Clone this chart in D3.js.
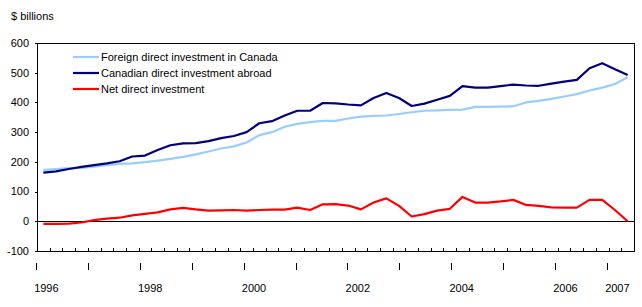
<!DOCTYPE html>
<html>
<head>
<meta charset="utf-8">
<script src="https://cdn.jsdelivr.net/npm/d3@7"></script>
<style>
  body { margin: 0; background: #fff; }
  text { font-family: Arial, "Liberation Sans", sans-serif; font-size: 11px; fill: #000; }
</style>
</head>
<body>
<svg id="chart" width="642" height="307"></svg>
<script>
// quarterly data, 1996Q1 .. 2007Q3
const years = [1996, 1997, 1998, 1999, 2000, 2001, 2002, 2003, 2004, 2005, 2006, 2007];
const quarters = years.flatMap(y => ['Q1', 'Q2', 'Q3', 'Q4'].map(q => y + q)).slice(0, 47);

const fdiCanada = [173, 176, 179, 180, 184, 189, 193, 195, 199, 204, 210, 217, 225, 235, 245, 252,
  265, 290, 300, 318, 328, 334, 338, 338, 346, 352, 355, 356, 361, 367, 372, 373,
  375, 376, 385, 385, 386, 387, 400, 405, 412, 420, 428, 440, 450, 462, 485];
const cdiAbroad = [164, 168, 176, 183, 189, 195, 202, 218, 221, 240, 256, 262, 263, 270, 280, 287,
  300, 330, 337, 356, 372, 372, 398, 397, 393, 390, 415, 432, 415, 388, 396, 409,
  422, 455, 450, 450, 455, 460, 457, 456, 463, 470, 476, 515, 532, 512, 492];
const netDirect = [-9, -9, -8, -4, 4, 9, 12, 20, 25, 30, 40, 45, 40, 36, 37, 38,
  36, 38, 39, 39, 46, 38, 57, 58, 53, 40, 63, 77, 52, 16, 24, 36,
  42, 82, 63, 63, 67, 72, 55, 52, 47, 46, 46, 72, 72, 38, 0];

const yTicks = [-100, 0, 100, 200, 300, 400, 500, 600];
const yearLabels = [1996, 1998, 2000, 2002, 2004, 2006, 2007];

const seriesNames = ['Foreign direct investment in Canada', 'Canadian direct investment abroad', 'Net direct investment'];
const seriesColors = ['#99ccff', '#000080', '#ff0000'];
const seriesValues = [fdiCanada, cdiAbroad, netDirect];

const svg = d3.select('#chart');

const plotL = 37, plotR = 634, plotT = 43, plotB = 251;

const x = d3.scaleBand()
  .domain(quarters)
  .range([plotL, plotR]);

const y = d3.scaleLinear()
  .domain([-100, 600])
  .range([plotB, plotT]);

// year scale used for the tick marks and labels under the axis
const yearScale = d3.scaleLinear()
  .domain([1996, 2007])
  .range([36, 607]);

svg.append('text')
  .attr('x', 11)
  .attr('y', 20)
  .text('$ billions');

// y labels + small outside ticks
svg.selectAll('.ylab')
  .data(yTicks)
  .enter()
  .append('text')
  .attr('class', 'ylab')
  .attr('x', 29)
  .attr('y', d => y(d))
  .attr('dy', '0.35em')
  .attr('text-anchor', 'end')
  .text(d => d);

svg.selectAll('.ytick')
  .data(yTicks)
  .enter()
  .append('line')
  .attr('x1', plotL - 2)
  .attr('x2', plotL)
  .attr('y1', d => Math.round(y(d)) + 0.5)
  .attr('y2', d => Math.round(y(d)) + 0.5)
  .attr('stroke', '#000');

// minor ticks on the bottom edge (quarter boundaries)
const bounds = quarters.map(q => x(q)).concat([plotR]);
svg.selectAll('.qtick')
  .data(bounds)
  .enter()
  .append('line')
  .attr('x1', d => Math.round(d) + 0.5)
  .attr('x2', d => Math.round(d) + 0.5)
  .attr('y1', plotB - 3)
  .attr('y2', plotB)
  .attr('stroke', '#000');

// year ticks below the plot
svg.selectAll('.yrtick')
  .data(years)
  .enter()
  .append('line')
  .attr('x1', d => Math.round(yearScale(d)) + 0.5)
  .attr('x2', d => Math.round(yearScale(d)) + 0.5)
  .attr('y1', 263)
  .attr('y2', 270)
  .attr('stroke', '#000');

svg.selectAll('.yrlab')
  .data(yearLabels)
  .enter()
  .append('text')
  .attr('x', d => yearScale(d + 0.2))
  .attr('y', 292)
  .attr('text-anchor', 'middle')
  .text(d => d);

// zero line
svg.append('line')
  .attr('x1', plotL)
  .attr('x2', plotR)
  .attr('y1', Math.round(y(0)) + 0.5)
  .attr('y2', Math.round(y(0)) + 0.5)
  .attr('stroke', '#000');

// frame
svg.append('rect')
  .attr('x', plotL + 0.5)
  .attr('y', plotT + 0.5)
  .attr('width', plotR - plotL)
  .attr('height', plotB - plotT)
  .attr('fill', 'none')
  .attr('stroke', '#000');

const line = d3.line()
  .x((d, i) => x(quarters[i]) + x.bandwidth() / 2)
  .y(d => y(d));

svg.selectAll('.series')
  .data(seriesValues)
  .enter()
  .append('path')
  .attr('class', 'series')
  .attr('d', line)
  .attr('fill', 'none')
  .attr('stroke', (d, i) => seriesColors[i])
  .attr('stroke-width', 2.2)
  .attr('stroke-linejoin', 'round');

// legend
const legend = svg.selectAll('.legend')
  .data(seriesNames)
  .enter()
  .append('g')
  .attr('class', 'legend')
  .attr('transform', (d, i) => `translate(73, ${57 + i * 16})`);

legend.append('line')
  .attr('x1', 0)
  .attr('x2', 26)
  .attr('stroke', (d, i) => seriesColors[i])
  .attr('stroke-width', 2.2);

legend.append('text')
  .attr('x', 28)
  .attr('dy', '0.35em')
  .text(d => d);
</script>
</body>
</html>
